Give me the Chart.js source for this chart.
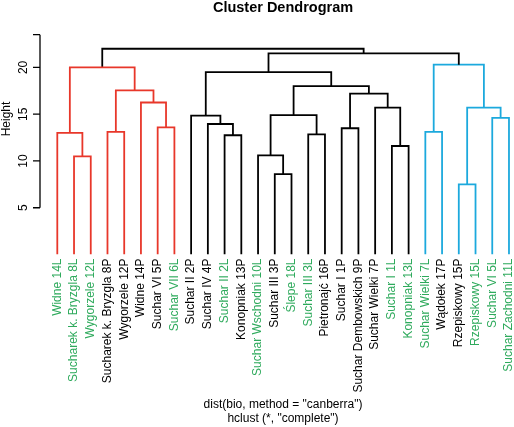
<!DOCTYPE html>
<html>
<head>
<meta charset="utf-8">
<script src="https://cdn.jsdelivr.net/npm/chart.js@4/dist/chart.umd.min.js"></script>
<style>
html, body { margin: 0; padding: 0; background: #fff; }
</style>
</head>
<body>
<canvas id="dendro" width="514" height="427"></canvas>
<script>
// leaves, in plotting order
const leafLabels = [
    'Widne 14L', 'Sucharek k. Bryzgla 8L', 'Wygorzele 12L', 'Sucharek k. Bryzgla 8P',
    'Wygorzele 12P', 'Widne 14P', 'Suchar VI 5P', 'Suchar VII 6L',
    'Suchar II 2P', 'Suchar IV 4P', 'Suchar II 2L', 'Konopniak 13P',
    'Suchar Wschodni 10L', 'Suchar III 3P', 'Ślepe 18L', 'Suchar III 3L',
    'Pietronajć 16P', 'Suchar I 1P', 'Suchar Dembowskich 9P', 'Suchar Wielki 7P',
    'Suchar I 1L', 'Konopniak 13L', 'Suchar Wielki 7L', 'Wądołek 17P',
    'Rzepiskowy 15P', 'Rzepiskowy 15L', 'Suchar VI 5L', 'Suchar Zachodni 11L'
];
const leafGroup = [
    'L', 'L', 'L', 'P', 'P', 'P', 'P', 'L', 'P', 'P', 'L', 'P', 'L', 'P',
    'L', 'L', 'P', 'P', 'P', 'P', 'L', 'L', 'L', 'P', 'P', 'L', 'L', 'L'
];

// merges, hclust style: negative = leaf position, positive = earlier merge (1-based)
const mergeLeft   = [-2, -1, -4, -7, -6, 3, 2, -11, -10, -9, -14, -13, -16, 12, -18, -21, -20, 15, 14, 10, -23, -25, -27, 22, 21, 20, 7];
const mergeRight  = [-3, 1, -5, -8, 4, 5, 6, -12, 8, 9, -15, 11, -17, 13, -19, -22, 16, 17, 18, 19, -24, -26, -28, 23, 24, 25, 26];
const mergeHeight = [10.5, 13.0, 13.1, 13.6, 16.25, 17.55, 20.0, 12.75, 13.95, 14.85, 8.6, 10.6, 12.85, 14.9, 13.5, 11.6, 15.7, 17.2, 18.0, 19.5, 13.1, 7.5, 14.6, 15.7, 20.3, 21.5, 22.0];
const mergeCluster = [
    'red', 'red', 'red', 'red', 'red', 'red', 'red',
    'black', 'black', 'black', 'black', 'black', 'black', 'black', 'black', 'black', 'black', 'black', 'black', 'black',
    'blue', 'blue', 'blue', 'blue', 'blue',
    'black', 'black'
];

const yTickValues = [5, 10, 15, 20];
const yAxisTop = 23.5;

const clusterColors = { red: '#E8372A', black: '#000000', blue: '#1CA9DD' };
const labelColors = { L: '#2EAA5C', P: '#000000' };
const fontFamily = '"Liberation Sans", Arial, Helvetica, sans-serif';

// x of each merge = midpoint of its two children
const mergeX = [];
function nodeX(ref) { return ref < 0 ? -ref : mergeX[ref - 1]; }
function nodeH(ref) { return ref < 0 ? 0 : mergeHeight[ref - 1]; }
mergeLeft.forEach((l, i) => {
    mergeX[i] = (nodeX(l) + nodeX(mergeRight[i])) / 2;
});

// one line dataset per branch colour, U shapes split by gaps
const segments = { red: [], black: [], blue: [] };
mergeLeft.forEach((l, i) => {
    const r = mergeRight[i];
    const h = mergeHeight[i];
    const pts = segments[mergeCluster[i]];
    pts.push({ x: nodeX(l), y: nodeH(l) });
    pts.push({ x: nodeX(l), y: h });
    pts.push({ x: nodeX(r), y: h });
    pts.push({ x: nodeX(r), y: nodeH(r) });
    pts.push({ x: nodeX(r), y: null });
});

const datasets = Object.keys(segments).map(k => ({
    label: k,
    data: segments[k],
    borderColor: clusterColors[k],
    borderWidth: 1.8,
    borderJoinStyle: 'miter',
    pointRadius: 0,
    spanGaps: false,
    tension: 0
}));

const decorations = {
    id: 'decorations',
    afterDraw(chart) {
        const ctx = chart.ctx;
        const y = chart.scales.y;
        const axisX = chart.chartArea.left;
        ctx.save();
        ctx.strokeStyle = '#000';
        ctx.fillStyle = '#000';
        ctx.lineWidth = 1.3;
        // y axis line and ticks
        ctx.beginPath();
        ctx.moveTo(axisX, y.getPixelForValue(yTickValues[0]));
        ctx.lineTo(axisX, y.getPixelForValue(yAxisTop));
        [...yTickValues, yAxisTop].forEach(v => {
            const py = y.getPixelForValue(v);
            ctx.moveTo(axisX, py);
            ctx.lineTo(axisX - 7, py);
        });
        ctx.stroke();
        // y tick labels, rotated like R
        ctx.font = '12px ' + fontFamily;
        ctx.textAlign = 'center';
        ctx.textBaseline = 'alphabetic';
        yTickValues.forEach(v => {
            ctx.save();
            ctx.translate(27, y.getPixelForValue(v));
            ctx.rotate(-Math.PI / 2);
            ctx.fillText(String(v), 0, 0);
            ctx.restore();
        });
        ctx.save();
        ctx.translate(9.5, 119);
        ctx.rotate(-Math.PI / 2);
        ctx.fillText('Height', 0, 0);
        ctx.restore();
        // title and sub titles
        ctx.font = 'bold 14.5px ' + fontFamily;
        ctx.fillText('Cluster Dendrogram', 283, 11.5);
        ctx.font = '12px ' + fontFamily;
        ctx.fillText('dist(bio, method = "canberra")', 283, 408);
        ctx.fillText('hclust (*, "complete")', 283, 422);
        ctx.restore();
    }
};

new Chart(document.getElementById('dendro'), {
    type: 'line',
    data: { datasets: datasets },
    plugins: [decorations],
    options: {
        responsive: false,
        devicePixelRatio: 1,
        animation: false,
        layout: { padding: { top: 34.7, left: 40, right: 0, bottom: 0 } },
        plugins: {
            legend: { display: false },
            tooltip: { enabled: false },
            title: { display: false }
        },
        scales: {
            x: {
                type: 'linear',
                min: -0.034,
                max: 28.3,
                afterBuildTicks: scale => {
                    scale.ticks = leafLabels.map((_, i) => ({ value: i + 1 }));
                },
                afterFit: scale => {
                    scale.height = 172.5;
                    scale.paddingLeft = 0;
                    scale.paddingRight = 0;
                },
                grid: { display: false, drawTicks: false },
                border: { display: false },
                ticks: {
                    autoSkip: false,
                    minRotation: 90,
                    maxRotation: 90,
                    padding: 4,
                    font: { family: fontFamily, size: 12 },
                    color: c => labelColors[leafGroup[c.index]],
                    callback: (v, i) => leafLabels[i]
                }
            },
            y: {
                type: 'linear',
                display: false,
                min: 0,
                max: yAxisTop
            }
        }
    }
});
</script>
</body>
</html>
